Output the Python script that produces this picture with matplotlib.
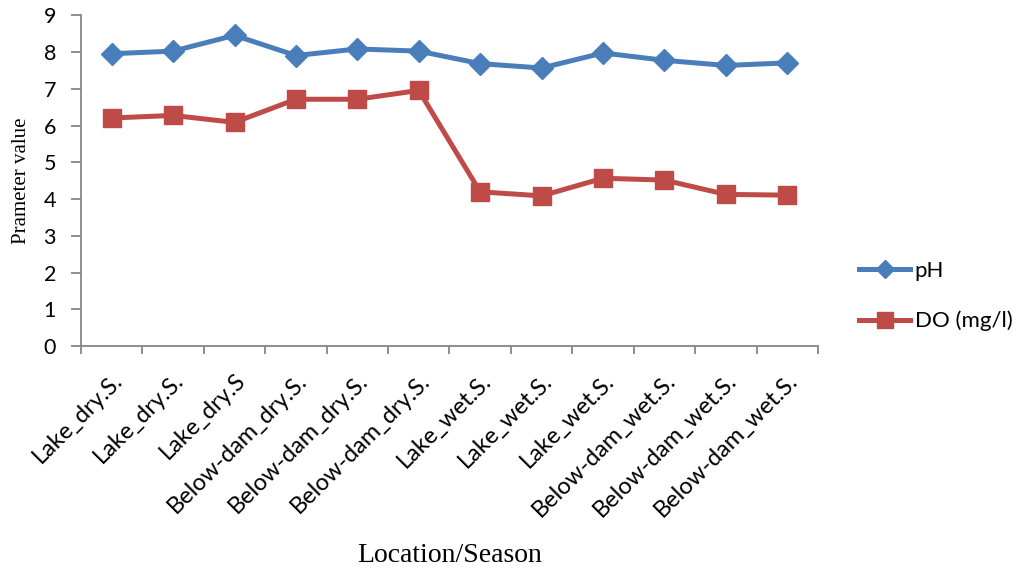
import matplotlib
matplotlib.use('Agg')

import numpy as np
import matplotlib.pyplot as plt
from matplotlib.ticker import MultipleLocator, FixedLocator

categories = ['Lake_dry.S.', 'Lake_dry.S.', 'Lake_dry.S',
              'Below-dam_dry.S.', 'Below-dam_dry.S.', 'Below-dam_dry.S.',
              'Lake_wet.S.', 'Lake_wet.S.', 'Lake_wet.S.',
              'Below-dam_wet.S.', 'Below-dam_wet.S.', 'Below-dam_wet.S.']
ph = [7.96, 8.03, 8.46, 7.91, 8.09, 8.03, 7.69, 7.57, 7.98, 7.78, 7.64, 7.71]
do = [6.21, 6.28, 6.09, 6.72, 6.72, 6.96, 4.20, 4.09, 4.57, 4.52, 4.13, 4.11]

BLUE = '#4A7EBB'
RED = '#BE4B48'
AXIS = '#868686'

def main():
    fig = plt.figure(figsize=(10.25, 5.74), dpi=100)
    ax = fig.add_axes([0.079, 0.397, 0.719, 0.576])

    x = np.arange(len(categories))
    ax.plot(x, ph, color=BLUE, lw=3.6, marker='D', ms=11, label='pH')
    ax.plot(x, do, color=RED, lw=3.6, marker='s', ms=13.5, label='DO (mg/l)')

    ax.set_xlim(-0.5, len(categories) - 0.5)
    ax.set_ylim(0, 9)
    ax.yaxis.set_major_locator(MultipleLocator(1))

    # labels sit on category centres, tick marks on the boundaries
    ax.set_xticks(x)
    ax.set_xticklabels(categories, rotation=45, ha='right', rotation_mode='anchor',
                       family='Lato', fontsize=17)
    ax.xaxis.set_minor_locator(FixedLocator(np.arange(-0.5, len(categories), 1.0)))
    ax.tick_params(axis='x', which='major', length=0, pad=17)
    ax.tick_params(axis='x', which='minor', length=6, color=AXIS, width=1.3, direction='out')
    ax.tick_params(axis='y', length=7, color=AXIS, width=1.3, labelsize=15.5, pad=11)
    for lbl in ax.get_yticklabels():
        lbl.set_family('Lato')

    for side in ['top', 'right']:
        ax.spines[side].set_visible(False)
    for side in ['left', 'bottom']:
        ax.spines[side].set_color(AXIS)
        ax.spines[side].set_linewidth(1.3)

    ax.set_ylabel('Prameter value', family='Liberation Serif', fontsize=15, labelpad=9)
    fig.text(0.439, 0.032, 'Location/Season', family='Liberation Serif', fontsize=20,
             ha='center', va='center')

    fig.legend(loc='center left', bbox_to_anchor=(0.838, 0.484), frameon=False,
               prop={'family': 'Lato', 'size': 16}, labelspacing=1.35,
               handlelength=2.3, handletextpad=0.2, markerscale=0.85,
               borderaxespad=0, borderpad=0)

    fig.savefig('out.png', dpi=100)
    plt.close(fig)

if __name__ == '__main__':
    main()
